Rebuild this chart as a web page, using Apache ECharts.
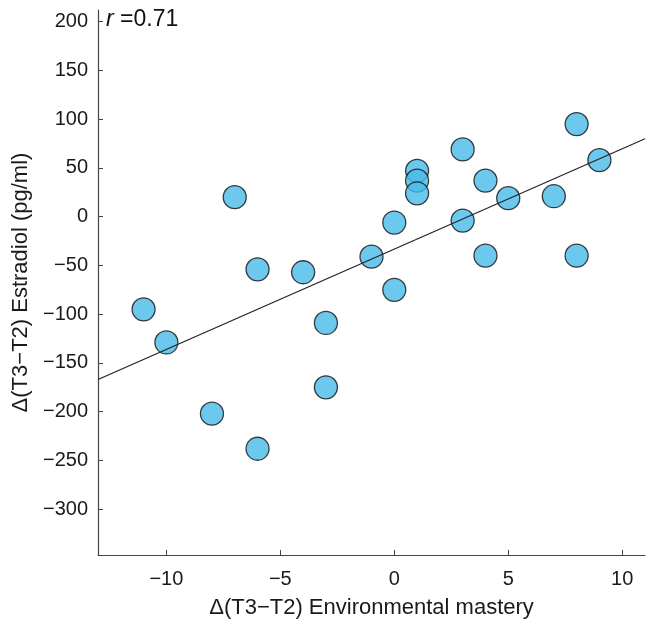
<!DOCTYPE html>
<html>
<head>
<meta charset="utf-8">
<script src="https://cdn.jsdelivr.net/npm/echarts@6/dist/echarts.min.js"></script>
<style>html,body{margin:0;padding:0;background:#fff}#c{width:649px;height:623px}</style>
</head>
<body>
<div id="c"></div>
<script>
// Data
const envMastery = [-11, -10, -8, -7, -6, -6, -4, -3, -3, -1, 0, 0, 1, 1, 1, 3, 3, 4, 4, 5, 7, 8, 8, 9];
const estradiol  = [-95, -129, -202, 20, -54, -238, -57, -109, -175, -41, -6, -75, 47, 37, 24, 69, -4, 37, -40, 19, 21, 95, -40, 58];
const fitX = [-13, 11];
const fitY = [-167, 80];
const xTicks = [-10, -5, 0, 5, 10];
const yTicks = [-300, -250, -200, -150, -100, -50, 0, 50, 100, 150, 200];
const rLabel = '0.71';

const font = 'Liberation Sans, Arial, Helvetica, sans-serif';
const minus = v => String(v).replace('-', '\u2212');

const chart = echarts.init(document.getElementById('c'));
chart.setOption({
  animation: false,
  backgroundColor: '#fff',
  grid: {left: 98, right: 4, top: 10, bottom: 68, containLabel: false, outerBoundsMode: 'none'},
  xAxis: {
    type: 'value', min: -13, max: 11, interval: 5,
    name: '\u0394(T3\u2212T2) Environmental mastery',
    nameLocation: 'middle', nameGap: 42,
    nameTextStyle: {fontFamily: font, fontSize: 22, color: '#1a1a1a'},
    axisLine: {show: true, onZero: false, lineStyle: {color: '#444', width: 1.2}},
    axisTick: {show: true, inside: true, length: 5, lineStyle: {color: '#444'},
      customValues: xTicks},
    axisLabel: {fontFamily: font, fontSize: 20, color: '#1a1a1a', margin: 14,
      customValues: xTicks, formatter: minus},
    splitLine: {show: false}
  },
  yAxis: {
    type: 'value', min: -347, max: 212,
    name: '\u0394(T3\u2212T2) Estradiol (pg/ml)',
    nameLocation: 'middle', nameGap: 58,
    nameTextStyle: {fontFamily: font, fontSize: 22, color: '#1a1a1a'},
    axisLine: {show: true, onZero: false, lineStyle: {color: '#444', width: 1.2}},
    axisTick: {show: true, inside: true, length: 5, lineStyle: {color: '#444'},
      customValues: yTicks},
    axisLabel: {fontFamily: font, fontSize: 20, color: '#1a1a1a', margin: 10,
      customValues: yTicks, formatter: minus},
    splitLine: {show: false}
  },
  graphic: [{
    type: 'text', left: 106, top: 8,
    style: {
      text: '{i|r} =' + rLabel,
      rich: {i: {fontStyle: 'italic', fontFamily: font, fontSize: 23, fill: '#111'}},
      fontFamily: font, fontSize: 23, fill: '#111'
    }
  }],
  series: [
    {
      type: 'line', data: fitX.map((x, i) => [x, fitY[i]]),
      symbol: 'none', lineStyle: {color: '#222', width: 1.2}, z: 3
    },
    {
      type: 'scatter', data: envMastery.map((x, i) => [x, estradiol[i]]),
      symbolSize: 23,
      itemStyle: {color: 'rgb(72,186,234)', opacity: 0.8, borderColor: '#111', borderWidth: 1.3},
      z: 2
    }
  ]
});
</script>
</body>
</html>
